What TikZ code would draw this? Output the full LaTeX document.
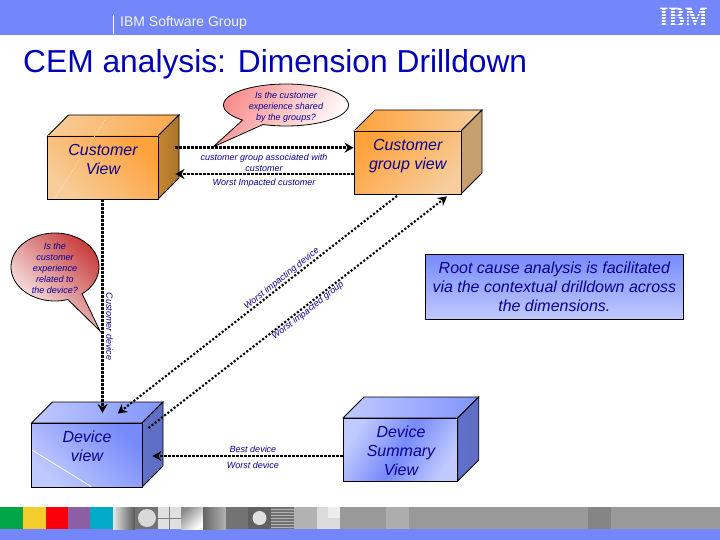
\documentclass[tikz,border=0pt]{standalone}
\usepackage{fontspec}
\setmainfont{Liberation Sans}
\newfontfamily\logofont{Liberation Serif}
\usetikzlibrary{arrows.meta}
\definecolor{hdr}{RGB}{115,135,250}
\definecolor{ink}{RGB}{10,0,145}
\definecolor{titleink}{RGB}{0,0,185}
\definecolor{orgL}{RGB}{246,205,155}
\definecolor{orgS}{RGB}{255,162,60}
\definecolor{orgD}{RGB}{198,135,50}
\definecolor{orgT}{RGB}{195,160,110}
\definecolor{bluL}{RGB}{192,202,255}
\definecolor{bluS}{RGB}{118,138,250}
\definecolor{bluD}{RGB}{95,110,195}
\definecolor{bubA}{RGB}{250,140,140}
\definecolor{bubB}{RGB}{200,65,65}
\definecolor{c1}{RGB}{0,165,70}
\definecolor{c2}{RGB}{245,205,45}
\definecolor{c3}{RGB}{250,0,10}
\definecolor{c4}{RGB}{140,95,165}
\definecolor{c5}{RGB}{0,170,200}
\tikzset{
  face/.style={draw=black,line width=.9pt,inner sep=0pt},
  small/.style={text=ink,font=\fontsize{9}{11}\selectfont\itshape,align=center,inner sep=0pt},
  big/.style={text=ink,font=\fontsize{16}{19}\selectfont\itshape,align=center,inner sep=0pt},
  conn/.style={line width=2.6pt,dash pattern=on 2.3pt off 1.7pt,-{Stealth[length=9pt,width=10pt]}},
  diag/.style={line width=2.1pt,dash pattern=on 2.1pt off 1.9pt,-{Stealth[length=9pt,width=10pt]}},
  bubble/.style={draw=black,line width=.8pt}
}
% top and side faces of a box: front x0,y0,x1,y1 then top colours, side colours
\newcommand{\cubesides}[8]{%
  \path[draw=black,line width=.9pt,left color=#5,right color=#6]
    (#1,#2) -- ({#1+21},{#2-21}) -- ({#3+21},{#2-21}) -- (#3,#2) -- cycle;
  \path[draw=black,line width=.9pt,left color=#7,right color=#8]
    (#3,#2) -- ({#3+21},{#2-21}) -- ({#3+21},{#4-21}) -- (#3,#4) -- cycle;
}
\begin{document}
\begin{tikzpicture}[x=1pt,y=-1pt]
\useasboundingbox (0,0) rectangle (720,540);
\fill[white] (0,0) rectangle (720,540);
% header and footer bands
\fill[hdr] (0,0) rectangle (720,35);
\fill[hdr] (0,529) rectangle (720,540);
\draw[white,line width=.8pt] (113.5,15) -- (113.5,34);
\node[anchor=base west,text=white!92!hdr,font=\fontsize{14}{16}\selectfont,inner sep=0pt] (grp) at (120,27) {IBM Software Group};
\node[text=white,inner sep=0pt,xscale=.87,font=\fontsize{28}{28}\selectfont\logofont\bfseries] (logo) at (683.5,17.5) {IBM};
\foreach \yy in {10.5,13.5,16.5,19.5,22.5,25.5}
  \draw[hdr,line width=.8pt] (655,\yy) -- (712,\yy);
% title
\node[anchor=base west,text=titleink,font=\fontsize{31.75}{36}\selectfont,inner sep=0pt] (title) at (23,73) {CEM analysis: Dimension Drilldown};
% footer strip
\fill[black!40] (113,507) rectangle (720,529);
\fill[c1] (0,507) rectangle (23,529);
\fill[c2] (23,507) rectangle (46,529);
\fill[c3] (46,507) rectangle (68,529);
\fill[c4] (68,507) rectangle (90,529);
\fill[c5] (90,507) rectangle (113,529);
\shade[left color=white!90!black,right color=black!65] (113,507) rectangle (135,529);
\fill[black!55] (135,507) rectangle (158,529);
\fill[black!15] (147,518) circle (9);
\fill[black!12] (158,507) rectangle (181,529);
\draw[black!50,line width=.7pt] (158,518) -- (181,518);
\draw[black!50,line width=.7pt] (169,507) -- (169,529);
\shade[left color=black!45,right color=white,shading angle=45] (181,507) rectangle (203,529);
\shade[left color=black!60,right color=black!30] (203,507) rectangle (226,529);
\fill[black!55] (226,507) rectangle (248,529);
\fill[black!62] (248,507) rectangle (271,529);
\fill[black!12] (259.5,518) circle (7);
\fill[black!55] (271,507) rectangle (294,529);
\foreach \yy in {509,512,515,518,521,524,527}
  \draw[black!30,line width=.8pt] (271,\yy) -- (294,\yy);
\fill[black!30] (294,507) rectangle (317,529);
\fill[black!14] (317,507) rectangle (340,529);
\fill[black!7] (328,507) rectangle (340,518);
\fill[black!40] (340,507) rectangle (720,529);
\fill[black!32] (386,507) rectangle (409,529);
\fill[black!48] (588,507) rectangle (611,529);
% Customer View box
\cubesides{47.5}{136}{158}{199}{orgL}{orgS!85!orgL}{orgD}{orgD!85!black}
\node[face,left color=orgL,right color=orgS,shading angle=135,minimum width=110.5pt,minimum height=63pt] (cv) at (102.75,167.5) {};
\draw[white!85!orange,line width=.7pt,dotted] (55,198) -- (107,117);
\node[big] (cvt) at (103,159.5) {Customer\\View};
% Customer group view box
\cubesides{354}{131}{461}{194}{orgS}{orgL}{orgT}{orgT}
\node[face,left color=orgS,right color=orgL,shading angle=45,minimum width=107pt,minimum height=63pt] (gv) at (407.5,162.5) {};
\node[big] (gvt) at (407.7,156.5) {Customer\\group view};
% Device view box
\cubesides{31.5}{423}{142}{487}{bluL}{bluS!85!bluL}{bluD!90!bluS}{bluD}
\node[face,left color=bluL,right color=bluS,shading angle=135,minimum width=110.5pt,minimum height=64pt] (dv) at (86.75,455) {};
\draw[white,line width=.7pt] (32,450) -- (91,486.5);
\node[big] (dvt) at (87,446.5) {Device\\view};
% Device Summary View box
\cubesides{343}{418}{457.7}{481}{bluL}{bluS!85!bluL}{bluD!90!bluS}{bluD}
\node[face,left color=bluL,right color=bluL,middle color=bluS,shading angle=60,minimum width=114.7pt,minimum height=63pt] (sv) at (400.35,449.5) {};
\node[big] (svt) at (401,451) {Device\\Summary\\View};
% Root cause box
\node[face,top color=bluS,bottom color=bluL,minimum width=258.7pt,minimum height=65pt,text=ink,font=\fontsize{16}{19}\selectfont\itshape,align=center] (root) at (554.35,286.5) {Root cause analysis is facilitated\\via the contextual drilldown across\\the dimensions.};
% connectors
\draw[conn] ([xshift=17pt,yshift=19.8pt]cv.east) -- ([yshift=14.8pt]gv.west);
\draw[conn] ([yshift=-11.5pt]gv.west) -- ([xshift=17pt,yshift=-6.5pt]cv.east);
\draw[conn] ([xshift=-.25pt]cv.south) -- ([xshift=15.75pt,yshift=9.5pt]dv.north);
\draw[diag] ([xshift=-10.5pt,yshift=-1.5pt]gv.south) -- ([xshift=31pt,yshift=9pt]dv.north);
\draw[diag] ([xshift=6pt,yshift=27pt]dv.east) -- ([xshift=39.5pt,yshift=-2pt]gv.south);
\draw[conn] ([yshift=-6.5pt]sv.west) -- ([xshift=10pt,yshift=-1pt]dv.east);
% callouts
\path[bubble,left color=bubA,right color=white,shading angle=60]
  plot[domain=134:471.6,samples=80] ({286+62.5*cos(\x)},{105+21*sin(\x)}) -- (213,147) -- cycle;
\node[small] (q1) at (286,107) {Is the customer\\experience shared\\by the groups?};
\path[bubble,left color=white,right color=bubB,shading angle=135]
  plot[domain=73:412,samples=80] ({55+44*cos(\x)},{267+34*sin(\x)}) -- (100,331) -- cycle;
\node[small] (q2) at (55,268) {Is the\\customer\\experience\\related to\\the device?};
% labels
\node[small] (l1) at (264,163) {customer group associated with\\customer};
\node[small] (l2) at (264,183) {Worst Impacted customer};
\node[small,rotate=38.5] (l3) at (281.7,279) {Worst impacting device};
\node[small,rotate=38] (l4) at (308,311) {Worst impacted group};
\node[small,rotate=-90] (l5) at (109.5,326.5) {Customer device};
\node[small] (l6) at (253,449) {Best device};
\node[small] (l7) at (253,465) {Worst device};
\end{tikzpicture}
\end{document}
